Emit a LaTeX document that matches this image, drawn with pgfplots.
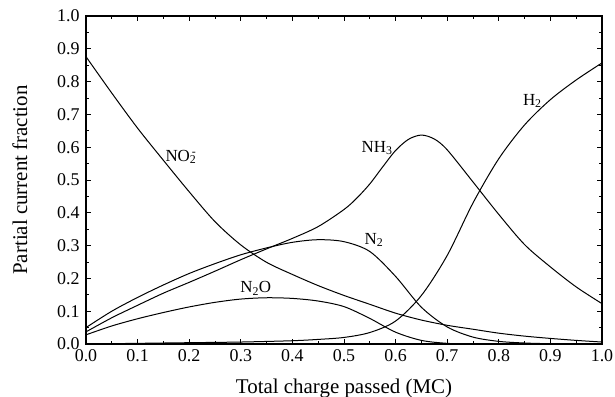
\documentclass[border=0pt]{standalone}
\usepackage{fontspec}
\setmainfont{Liberation Serif}
\usepackage{pgfplots}
\pgfplotsset{compat=1.18}
\tikzset{curve/.style={black, line width=1bp, smooth, mark=none}}
\begin{document}
\begin{tikzpicture}
\begin{axis}[
  scale only axis, width=516bp, height=328bp,
  xmin=0, xmax=1, ymin=0, ymax=1,
  xtick={0,0.1,0.2,0.3,0.4,0.5,0.6,0.7,0.8,0.9,1.0},
  ytick={0,0.1,0.2,0.3,0.4,0.5,0.6,0.7,0.8,0.9,1.0},
  minor tick num=1,
  tick align=inside,
  major tick length=5bp, minor tick length=3bp,
  axis line style={line width=1.2bp},
  every tick/.style={black, line width=0.8bp},
  ticklabel style={font=\fontsize{18}{20}\selectfont},
  xticklabel style={yshift=-2bp},
  yticklabel style={xshift=-3bp},
  /pgf/number format/fixed,
  /pgf/number format/fixed zerofill,
  /pgf/number format/precision=1,
  /pgf/number format/assume math mode=true,
  xlabel={Total charge passed (MC)},
  ylabel={Partial current fraction},
  label style={font=\fontsize{21}{24}\selectfont},
  xlabel style={at={(axis description cs:0.5,0)}, anchor=base, yshift=-49bp},
  ylabel style={at={(axis description cs:-0.1143,0.5)}, anchor=base, rotate=0},
  clip=false,
]
% NO2-
\addplot[curve] coordinates {(0,0.876)(0.05,0.765)(0.10,0.658)(0.15,0.560)(0.20,0.464)(0.25,0.373)(0.30,0.302)(0.35,0.249)(0.40,0.212)(0.45,0.178)(0.50,0.148)(0.55,0.121)(0.60,0.094)(0.65,0.073)(0.70,0.057)(0.75,0.045)(0.80,0.033)(0.85,0.024)(0.90,0.017)(0.95,0.011)(1.00,0.006)};
% NH3
\addplot[curve] coordinates {(0,0.037)(0.05,0.080)(0.10,0.118)(0.15,0.155)(0.20,0.188)(0.25,0.222)(0.30,0.257)(0.35,0.290)(0.40,0.322)(0.45,0.358)(0.50,0.410)(0.525,0.445)(0.55,0.488)(0.575,0.540)(0.60,0.590)(0.625,0.624)(0.65,0.637)(0.675,0.625)(0.70,0.592)(0.75,0.494)(0.80,0.395)(0.85,0.303)(0.90,0.235)(0.95,0.174)(1.00,0.123)};
% N2
\addplot[curve] coordinates {(0,0.050)(0.05,0.100)(0.10,0.142)(0.15,0.180)(0.20,0.215)(0.25,0.245)(0.30,0.272)(0.35,0.293)(0.40,0.310)(0.45,0.318)(0.50,0.312)(0.55,0.282)(0.60,0.206)(0.65,0.112)(0.70,0.052)(0.75,0.021)(0.80,0.008)(0.85,0.003)(0.90,0.001)(1.00,0.000)};
% N2O
\addplot[curve] coordinates {(0,0.028)(0.05,0.055)(0.10,0.077)(0.15,0.096)(0.20,0.113)(0.25,0.127)(0.30,0.137)(0.35,0.141)(0.40,0.139)(0.45,0.131)(0.50,0.114)(0.55,0.078)(0.60,0.036)(0.65,0.011)(0.70,0.002)(0.75,0.000)(1.00,0.000)};
% H2
\addplot[curve] coordinates {(0,0.000)(0.10,0.002)(0.20,0.004)(0.30,0.006)(0.40,0.010)(0.45,0.014)(0.50,0.020)(0.55,0.035)(0.60,0.070)(0.65,0.148)(0.70,0.270)(0.75,0.430)(0.80,0.565)(0.85,0.668)(0.90,0.745)(0.95,0.805)(1.00,0.857)};
\begin{scope}[every node/.style={font=\fontsize{17}{19}\selectfont, inner sep=0pt}]
\node at (axis cs:0.184,0.57) {NO\textsubscript{2}\llap{\textsuperscript{-}}};
\node at (axis cs:0.564,0.598) {NH\textsubscript{3}};
\node at (axis cs:0.865,0.741) {H\textsubscript{2}};
\node at (axis cs:0.558,0.317) {N\textsubscript{2}};
\node at (axis cs:0.329,0.17) {N\textsubscript{2}O};
\end{scope}
\coordinate (sw) at (rel axis cs:0,0);
\coordinate (ne) at (rel axis cs:1,1);
\end{axis}
\pgfresetboundingbox
\path ([shift={(-86bp,-53bp)}]sw) rectangle ([shift={(13bp,16bp)}]ne);
\end{tikzpicture}
\end{document}
